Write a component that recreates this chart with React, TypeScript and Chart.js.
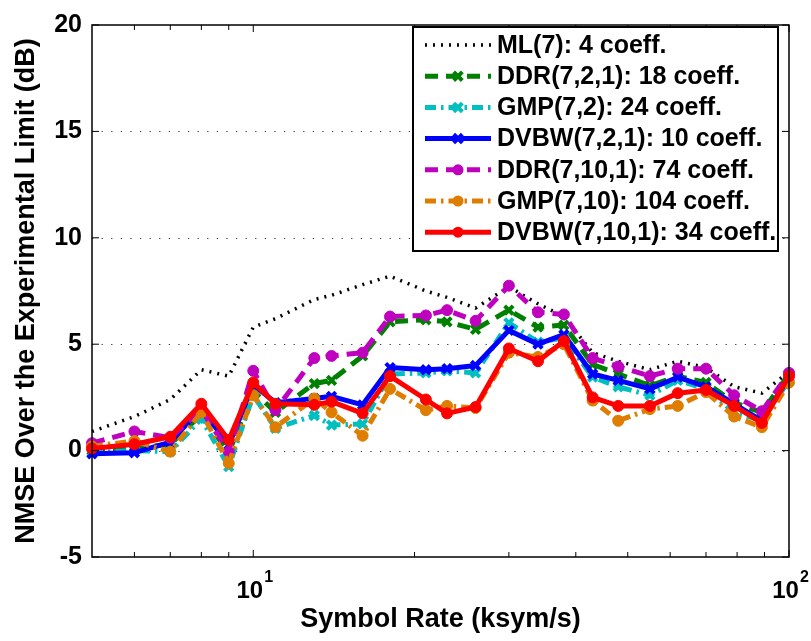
import React, { useEffect, useRef } from 'react';
import { Chart, registerables } from 'chart.js';

Chart.register(...registerables);

// ---- data ----
const symbolRates = [5, 6, 7, 8, 9, 10, 11, 13, 14, 16, 18, 21, 23, 26, 30, 34, 38, 43, 48, 55, 62, 70, 79, 89, 100];

const ml7 = [0.9, 1.6, 2.4, 3.8, 3.5, 5.8, 6.2, 7.1, 7.3, 7.8, 8.2, 7.5, 7.2, 6.7, 7.7, 6.9, 6.3, 4.6, 4.2, 3.8, 4.2, 3.9, 3.0, 2.7, 3.7];
const ddr721 = [0.0, 0.1, 0.3, 1.7, -0.1, 2.8, 1.8, 3.15, 3.3, 4.45, 6.05, 6.15, 6.05, 5.7, 6.6, 5.8, 5.9, 4.05, 3.6, 3.05, 3.5, 3.2, 2.25, 1.8, 3.6];
const gmp72 = [-0.1, 0.0, -0.05, 1.5, -0.75, 2.6, 1.05, 1.65, 1.2, 1.25, 3.6, 3.65, 3.75, 3.65, 6.0, 5.1, 5.3, 3.45, 3.0, 2.6, 3.3, 2.9, 1.8, 1.4, 3.3];
const dvbw721 = [-0.15, -0.1, 0.4, 2.0, 0.25, 3.1, 2.25, 2.45, 2.55, 2.15, 3.9, 3.8, 3.85, 4.0, 5.65, 5.0, 5.45, 3.6, 3.3, 2.9, 3.45, 3.0, 2.2, 1.4, 3.45];
const ddr7101 = [0.35, 0.9, 0.6, 1.9, -0.05, 3.75, 1.9, 4.35, 4.45, 4.6, 6.3, 6.35, 6.6, 6.1, 7.75, 6.5, 6.4, 4.35, 3.95, 3.5, 3.85, 3.85, 2.6, 1.85, 3.65];
const gmp710 = [0.2, 0.45, -0.05, 1.8, -0.6, 2.6, 1.1, 2.45, 1.8, 0.7, 2.9, 1.9, 2.1, 2.0, 4.6, 4.4, 5.0, 2.35, 1.4, 1.95, 2.1, 2.75, 1.6, 1.1, 3.2];
const dvbw7101 = [0.1, 0.3, 0.65, 2.2, 0.5, 3.2, 2.2, 2.15, 2.3, 1.75, 3.5, 2.4, 1.75, 2.05, 4.8, 4.2, 5.15, 2.5, 2.1, 2.1, 2.7, 2.85, 2.1, 1.3, 3.5];

const seriesLabels = [
  'ML(7): 4 coeff.',
  'DDR(7,2,1): 18 coeff.',
  'GMP(7,2): 24 coeff.',
  'DVBW(7,2,1): 10 coeff.',
  'DDR(7,10,1): 74 coeff.',
  'GMP(7,10): 104 coeff.',
  'DVBW(7,10,1): 34 coeff.',
];

const yTickValues = [-5, 0, 5, 10, 15, 20];
const yGridValues = [0, 5, 10, 15];
const xMajorTicks = [10, 100];
const xMinorTicks = [6, 7, 8, 9, 20, 30, 40, 50, 60, 70, 80, 90];
const xTickLabels = [
  { value: 10, base: '10', exp: '1' },
  { value: 100, base: '10', exp: '2' },
];

const FONT = "'Liberation Sans', Arial, Helvetica, sans-serif";

type Style = {
  color: string;
  dash: number[];
  width: number;
  marker: 'none' | 'x' | 'dot';
  radius: number;
  markerWidth: number;
};

const styles: Style[] = [
  { color: '#000000', dash: [2, 6], width: 3.5, marker: 'none', radius: 0, markerWidth: 0 },
  { color: '#008000', dash: [13, 8], width: 5, marker: 'x', radius: 6, markerWidth: 4 },
  { color: '#00BFBF', dash: [11, 5, 2.5, 5], width: 5, marker: 'x', radius: 6, markerWidth: 4 },
  { color: '#0000FF', dash: [], width: 5, marker: 'x', radius: 6, markerWidth: 4 },
  { color: '#BF00BF', dash: [13, 8], width: 5, marker: 'dot', radius: 5.5, markerWidth: 1 },
  { color: '#DE7D00', dash: [11, 5, 2.5, 5], width: 5, marker: 'dot', radius: 5.5, markerWidth: 1 },
  { color: '#FF0000', dash: [], width: 5, marker: 'dot', radius: 5.5, markerWidth: 1 },
];

const seriesValues = [ml7, ddr721, gmp72, dvbw721, ddr7101, gmp710, dvbw7101];

function drawMarker(ctx: CanvasRenderingContext2D, s: Style, x: number, y: number) {
  ctx.save();
  ctx.setLineDash([]);
  if (s.marker === 'dot') {
    ctx.fillStyle = s.color;
    ctx.beginPath();
    ctx.arc(x, y, s.radius, 0, Math.PI * 2);
    ctx.fill();
  } else if (s.marker === 'x') {
    ctx.strokeStyle = s.color;
    ctx.lineWidth = s.markerWidth;
    const r = s.radius * 0.72;
    ctx.beginPath();
    ctx.moveTo(x - r, y - r);
    ctx.lineTo(x + r, y + r);
    ctx.moveTo(x - r, y + r);
    ctx.lineTo(x + r, y - r);
    ctx.stroke();
  }
  ctx.restore();
}

const matlabAxes = {
  id: 'matlabAxes',
  beforeDatasetsDraw(chart: any) {
    const { ctx, chartArea: a, scales } = chart;
    const y = scales.y;
    ctx.save();
    ctx.strokeStyle = '#333333';
    ctx.lineWidth = 1;
    ctx.setLineDash([1.2, 8.4]);
    for (const v of yGridValues) {
      const py = Math.round(y.getPixelForValue(v)) + 0.5;
      ctx.beginPath();
      ctx.moveTo(a.left, py);
      ctx.lineTo(a.right, py);
      ctx.stroke();
    }
    ctx.restore();
  },
  afterDraw(chart: any) {
    const { ctx, chartArea: a, scales } = chart;
    const x = scales.x;
    const y = scales.y;
    ctx.save();
    ctx.setLineDash([]);
    ctx.strokeStyle = '#000';
    ctx.lineWidth = 1.5;
    ctx.strokeRect(a.left, a.top, a.right - a.left, a.bottom - a.top);

    const line = (x1: number, y1: number, x2: number, y2: number) => {
      ctx.beginPath();
      ctx.moveTo(x1, y1);
      ctx.lineTo(x2, y2);
      ctx.stroke();
    };
    ctx.lineWidth = 1;
    for (const v of yTickValues) {
      const py = y.getPixelForValue(v);
      line(a.left, py, a.left + 7, py);
      line(a.right, py, a.right - 7, py);
    }
    for (const v of xMajorTicks) {
      const px = x.getPixelForValue(v);
      line(px, a.bottom, px, a.bottom - 7);
      line(px, a.top, px, a.top + 7);
    }
    for (const v of xMinorTicks) {
      const px = x.getPixelForValue(v);
      line(px, a.bottom, px, a.bottom - 5);
      line(px, a.top, px, a.top + 5);
    }

    // x tick labels with superscripts
    ctx.fillStyle = '#000';
    ctx.textBaseline = 'alphabetic';
    ctx.textAlign = 'left';
    for (const t of xTickLabels) {
      const px = x.getPixelForValue(t.value);
      ctx.font = `bold 24px ${FONT}`;
      const w1 = ctx.measureText(t.base).width;
      ctx.font = `bold 16px ${FONT}`;
      const w2 = ctx.measureText(t.exp).width;
      const sx = px - (w1 + w2) / 2 + 1;
      ctx.font = `bold 24px ${FONT}`;
      ctx.fillText(t.base, sx, 598);
      ctx.font = `bold 16px ${FONT}`;
      ctx.fillText(t.exp, sx + w1 + 1, 582);
    }

    // legend
    const lx = 413, ly = 27, lw = 365, lh = 224;
    ctx.fillStyle = '#fff';
    ctx.fillRect(lx, ly, lw, lh);
    ctx.strokeStyle = '#000';
    ctx.lineWidth = 2;
    ctx.strokeRect(lx, ly, lw, lh);
    chart.data.datasets.forEach((ds: any, i: number) => {
      const s = styles[i];
      const ry = 45 + i * 31.2;
      ctx.save();
      ctx.strokeStyle = s.color;
      ctx.lineWidth = s.width;
      ctx.setLineDash(s.dash);
      line(425, ry, 491, ry);
      ctx.restore();
      drawMarker(ctx, s, 458, ry);
      ctx.fillStyle = '#000';
      ctx.font = `bold 25px ${FONT}`;
      ctx.textBaseline = 'middle';
      ctx.textAlign = 'left';
      ctx.fillText(ds.label, 497, ry + 1);
    });
    ctx.restore();
  },
};

export default function App() {
  const ref = useRef<HTMLCanvasElement>(null);

  useEffect(() => {
    const canvas = ref.current;
    if (!canvas) return;
    const datasets = seriesValues.map((vals, i) => {
      const s = styles[i];
      return {
        label: seriesLabels[i],
        data: symbolRates.map((xv, j) => ({ x: xv, y: vals[j] })),
        borderColor: s.color,
        backgroundColor: s.color,
        borderWidth: s.width,
        borderDash: s.dash,
        borderCapStyle: 'butt',
        borderJoinStyle: 'round',
        pointStyle: s.marker === 'x' ? 'crossRot' : 'circle',
        pointRadius: s.marker === 'none' ? 0 : s.radius,
        pointBorderWidth: s.markerWidth,
        pointBackgroundColor: s.color,
        pointBorderColor: s.color,
        tension: 0,
        clip: false,
        order: seriesValues.length - i,
      };
    });

    const chart = new Chart(canvas, {
      type: 'line',
      data: { datasets: datasets as any },
      options: {
        animation: false,
        responsive: false,
        maintainAspectRatio: false,
        devicePixelRatio: 1,
        layout: { padding: { left: 0, top: 18, right: 22, bottom: 0 } },
        plugins: {
          legend: { display: false },
          tooltip: { enabled: false },
        },
        scales: {
          x: {
            type: 'logarithmic',
            min: 5,
            max: 100,
            grid: { display: false, drawTicks: false },
            border: { display: false },
            ticks: { display: false },
            title: {
              display: true,
              text: 'Symbol Rate (ksym/s)',
              color: '#000',
              font: { family: FONT, size: 27, weight: 'bold' },
              padding: { top: 0, bottom: 5 },
            },
            afterFit: (scale: any) => {
              scale.height = 84;
            },
          },
          y: {
            type: 'linear',
            min: -5,
            max: 20,
            grid: { display: false, drawTicks: false },
            border: { display: false },
            ticks: {
              stepSize: 5,
              color: '#000',
              padding: 10,
              font: { family: FONT, size: 25, weight: 'bold' },
            },
            title: {
              display: true,
              text: 'NMSE Over the Experimental Limit (dB)',
              color: '#000',
              font: { family: FONT, size: 27, weight: 'bold' },
              padding: { top: 10, bottom: 0 },
            },
            afterFit: (scale: any) => {
              scale.width = 92;
            },
          },
        },
      } as any,
      plugins: [matlabAxes],
    });
    return () => chart.destroy();
  }, []);

  return (
    <div style={{ position: 'absolute', left: 0, top: 0, width: 811, height: 641, background: '#fff' }}>
      <canvas ref={ref} width={811} height={641} style={{ width: 811, height: 641, display: 'block' }} />
    </div>
  );
}
